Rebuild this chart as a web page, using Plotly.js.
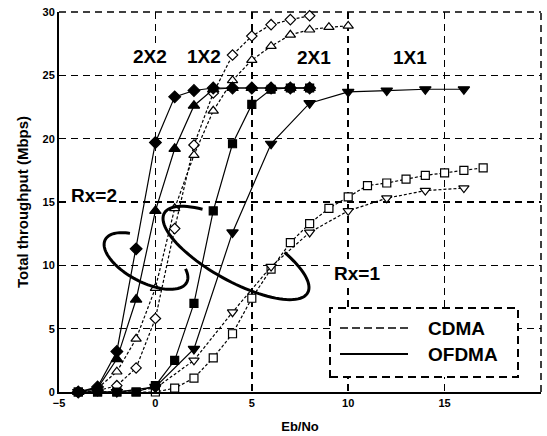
<!DOCTYPE html>
<html><head><meta charset="utf-8">
<script src="https://cdn.plot.ly/plotly-3.0.1.min.js"></script>
<style>html,body{margin:0;padding:0;background:#fff}#chart{width:547px;height:436px}</style>
</head><body><div id="chart"></div>
<script>
// ---- data (Eb/No in dB, throughput in Mbps) ----
const ebnoRx2      = [-4,-3,-2,-1,0,1,2,3,4,5,6,7,8];
const ofdma2x2     = [0,0.4,3.2,11.3,19.7,23.3,23.8,24,24,24,24,24,24];
const ofdma1x2     = [0,0.3,2.6,7.3,14.3,19.2,22.6,23.9,24,24,24,24,24];
const ofdma2x1     = [0,0,0,0,0.5,2.5,7.0,14.3,19.6,22.7,23.9,24,24];
const ebnoEven     = [-4,-2,0,2,4,6,8,10,12,14,16];
const ofdma1x1     = [0,0,0.4,3.4,12.6,19.6,22.8,23.7,23.8,23.9,23.9];

const ebnoCdma2x2  = [-4,-3,-2,-1,0,1,2,3,4,5,6,7,8];
const cdma2x2      = [0,0.1,0.5,1.9,5.8,12.9,19.5,23.6,26.6,28.1,29.0,29.4,29.7];
const ebnoCdma1x2  = [-4,-3,-2,-1,0,1,2,3,4,5,6,7,8,9,10];
const cdma1x2      = [0,0.3,1.6,4.2,8.2,14.5,18.7,22.2,24.6,26.2,27.3,28.2,28.6,28.8,28.9];
const ebnoCdma2x1  = [-4,-3,-2,-1,0,1,2,3,4,5,6,7,8,9,10,11,12,13,14,15,16,17];
const cdma2x1      = [0,0,0,0,0,0.3,1.1,2.7,4.6,7.4,9.7,11.8,13.3,14.5,15.4,16.3,16.5,16.8,17.1,17.3,17.5,17.7];
const cdma1x1      = [0,0,0.3,2.5,6.3,9.9,12.6,14.3,15.3,15.9,16.1];

const xTicks = [-5,0,5,10,15,20];
const yTicks = [0,5,10,15,20,25,30];
const curveLabels = ['2X2','1X2','2X1','1X1'];
const legendNames = ['CDMA','OFDMA'];

// ---- geometry helpers ----
const W=547,H=436,ML=59,MR=6,MT=12,MB=44;
const PW=W-ML-MR, PH=H-MT-MB;
const XR=[-5,20], YR=[0,30];
const px2x = p => XR[0] + (p-ML)/PW*(XR[1]-XR[0]);
const py2y = p => YR[0] + (H-MB-p)/PH*(YR[1]-YR[0]);
const px2paper = p => (p-ML)/PW;
const py2paper = p => (H-MB-p)/PH;

function ellipsePath(cx,cy,a,b,angDeg,t0,t1){
  const th=angDeg*Math.PI/180, ux=Math.cos(th), uy=Math.sin(th), vx=Math.sin(th), vy=-Math.cos(th);
  let s='';
  const n=80;
  for(let i=0;i<=n;i++){
    const t=(t0+(t1-t0)*i/n)*Math.PI/180;
    const px=cx+a*Math.cos(t)*ux+b*Math.sin(t)*vx;
    const py=cy+a*Math.cos(t)*uy+b*Math.sin(t)*vy;
    s+=(i?' L ':'M ')+px2x(px).toFixed(4)+','+py2y(py).toFixed(4);
  }
  return s;
}

const BLACK='#000';
function tr(x,y,dash,symbol,open,size){
  return {x:x,y:y,type:'scatter',mode:'lines+markers',showlegend:false,
    line:{color:BLACK,width:1.2,dash:dash},
    marker:{symbol:symbol,size:size,color:open?'#fff':BLACK,line:{color:BLACK,width:1.2}},
    cliponaxis:false};
}
const CD='3px,2px';
const traces=[
  tr(ebnoCdma2x1,cdma2x1,CD,'square',true,8),
  tr(ebnoEven,cdma1x1,CD,'triangle-down',true,9),
  tr(ebnoCdma2x2,cdma2x2,CD,'diamond',true,8),
  tr(ebnoCdma1x2,cdma1x2,CD,'triangle-up',true,9),
  tr(ebnoEven,ofdma1x1,'solid','triangle-down',false,10),
  tr(ebnoRx2,ofdma2x1,'solid','square',false,8),
  tr(ebnoRx2,ofdma1x2,'solid','triangle-up',false,10),
  tr(ebnoRx2,ofdma2x2,'solid','diamond',false,9)
];

const FONT='Liberation Sans, Arial, sans-serif';
const lblFont={family:FONT,size:19,color:BLACK,weight:'bold'};
function ann(text,px,py,xanchor,bg){
  const a={text:text,xref:'paper',yref:'paper',x:px2paper(px),y:py2paper(py),
    xanchor:xanchor||'center',yanchor:'middle',showarrow:false,font:lblFont,borderpad:1};
  if(bg!==false) a.bgcolor='#fff';
  return a;
}
const annotations=[
  ann(curveLabels[0],150,56), ann(curveLabels[1],204,56),
  ann(curveLabels[2],314,57), ann(curveLabels[3],410,57),
  ann('Rx=2',94,195), ann('Rx=1',357,274),
  ann(legendNames[0],426,328,'left',false), ann(legendNames[1],426,354,'left',false)
];
const gridDash='7px,5px';
const shapes=[
  // dashed top and right frame (gridlines at y=30 and x=20)
  {type:'line',xref:'paper',yref:'paper',x0:0,x1:1,y0:1,y1:1,line:{color:BLACK,width:1.5,dash:gridDash},layer:'below'},
  {type:'line',xref:'paper',yref:'paper',x0:1,x1:1,y0:0,y1:1,line:{color:BLACK,width:1.5,dash:gridDash},layer:'below'},
  {type:'path',xref:'x',yref:'y',path:ellipsePath(146,261,46,21,27.7,126,393),line:{color:BLACK,width:3}},
  {type:'path',xref:'x',yref:'y',path:ellipsePath(236,253,82,28,29,128,419),line:{color:BLACK,width:3}},
  {type:'rect',xref:'paper',yref:'paper',x0:px2paper(330),x1:px2paper(518),y0:py2paper(377),y1:py2paper(308),
    fillcolor:'#fff',line:{color:BLACK,width:2,dash:'8px,5px'},layer:'above'},
  {type:'line',xref:'paper',yref:'paper',x0:px2paper(340),x1:px2paper(408),y0:py2paper(328),y1:py2paper(328),
    line:{color:BLACK,width:1.5,dash:'8px,4px'}},
  {type:'line',xref:'paper',yref:'paper',x0:px2paper(340),x1:px2paper(408),y0:py2paper(354),y1:py2paper(354),
    line:{color:BLACK,width:2}}
];
const axFont={family:FONT,size:11,color:BLACK,weight:'bold'};
const layout={
  width:W,height:H,margin:{l:ML,r:MR,t:MT,b:MB},
  paper_bgcolor:'#fff',plot_bgcolor:'#fff',showlegend:false,
  xaxis:{range:XR,tickvals:xTicks,showgrid:true,gridcolor:BLACK,gridwidth:1.5,griddash:gridDash,
    showline:true,linecolor:BLACK,linewidth:2,zeroline:false,ticks:'',tickfont:axFont,
    title:{text:'Eb/No',font:{family:FONT,size:13,color:BLACK,weight:'bold'},standoff:14}},
  yaxis:{range:YR,tickvals:yTicks,showgrid:true,gridcolor:BLACK,gridwidth:1.5,griddash:gridDash,
    showline:true,linecolor:BLACK,linewidth:2,zeroline:false,ticks:'',tickfont:axFont,
    title:{text:'Total throughput (Mbps)',font:{family:FONT,size:15,color:BLACK,weight:'bold'},standoff:10}},
  annotations:annotations,shapes:shapes
};
Plotly.newPlot('chart',traces,layout,{displayModeBar:false,staticPlot:true});
</script></body></html>
